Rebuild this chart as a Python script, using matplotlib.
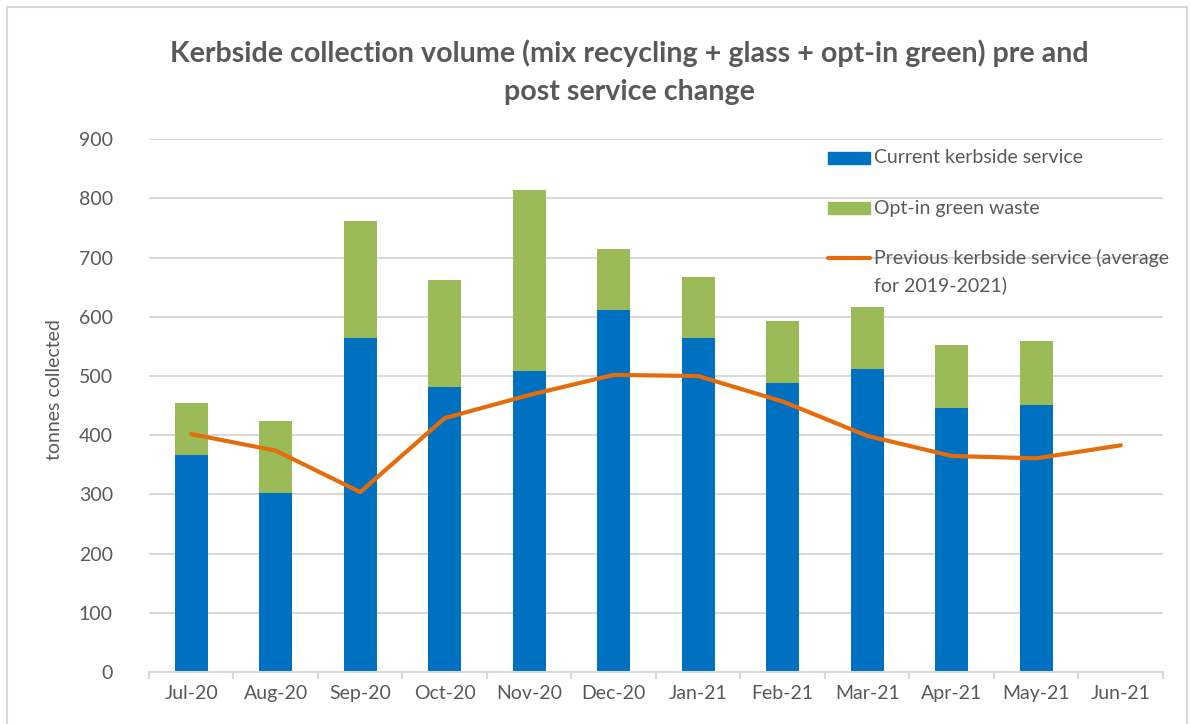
import matplotlib.pyplot as plt
import matplotlib.patches as mpatches
from matplotlib.lines import Line2D
import numpy as np

months = ['Jul-20', 'Aug-20', 'Sep-20', 'Oct-20', 'Nov-20', 'Dec-20',
          'Jan-21', 'Feb-21', 'Mar-21', 'Apr-21', 'May-21', 'Jun-21']
current = [366, 302, 565, 481, 509, 611, 565, 489, 512, 446, 451, 0]
green_total = [454, 424, 762, 662, 814, 714, 668, 593, 616, 552, 559, 0]
previous = [402, 374, 304, 429, 468, 502, 500, 457, 399, 365, 361, 383]
green = [t - c for t, c in zip(green_total, current)]

blue_c = '#0070C0'
green_c = '#9BBB59'
orange_c = '#E46C0A'
grey_txt = '#595959'
grid_c = '#D9D9D9'

plt.rcParams['font.family'] = ['Lato', 'DejaVu Sans']

fig = plt.figure(figsize=(11.9, 7.24), dpi=100)
fig.patches.append(mpatches.Rectangle((7 / 1190, -0.1), 1180 / 1190, 1.1 - 7 / 724,
                                      transform=fig.transFigure, fill=False,
                                      edgecolor=grid_c, linewidth=1.5))
ax = fig.add_axes([0.1252, 0.0718, 0.8521, 0.7358])

x = np.arange(len(months))
w = 0.39
ax.bar(x, current, w, color=blue_c, zorder=2)
ax.bar(x, green, w, bottom=current, color=green_c, zorder=2)
ax.plot(x, previous, color=orange_c, linewidth=3, zorder=3, solid_capstyle='round')

ax.set_xlim(-0.5, len(months) - 0.5)
ax.set_ylim(0, 900)
ax.set_yticks(range(0, 901, 100))
ax.yaxis.grid(True, color=grid_c, linewidth=1.5, zorder=0)
ax.set_axisbelow(True)
for s in ['top', 'right', 'left']:
    ax.spines[s].set_visible(False)
ax.spines['bottom'].set_color(grid_c)
ax.spines['bottom'].set_linewidth(1.5)

ax.set_xticks(x)
ax.set_xticklabels(months)
ax.set_xticks(np.arange(-0.5, len(months), 1), minor=True)
ax.tick_params(axis='x', which='major', length=0, pad=9, labelsize=14, labelcolor=grey_txt)
ax.tick_params(axis='x', which='minor', length=5, color=grid_c, width=1.5)
ax.tick_params(axis='y', length=0, pad=26, labelsize=14, labelcolor=grey_txt)
fig.text(55 / 1190, 1 - 390 / 724, 'tonnes collected', rotation=90, ha='center', va='center',
         fontsize=14, color=grey_txt)

fig.text(0.529, 0.900, 'Kerbside collection volume (mix recycling + glass + opt-in green) pre and\npost service change',
         ha='center', va='center', fontsize=20.6, fontweight='bold', color=grey_txt, linespacing=1.59)

# legend drawn in axes fraction
lx0, lx1, tx = 0.6696, 0.711, 0.715
fs_leg = 14
for yy, col, lab in [(0.965, blue_c, 'Current kerbside service'),
                     (0.871, green_c, 'Opt-in green waste')]:
    ax.add_patch(mpatches.Rectangle((lx0, yy - 0.011), lx1 - lx0, 0.022, transform=ax.transAxes,
                                    color=col, clip_on=False, zorder=4))
    ax.text(tx, yy, lab, transform=ax.transAxes, va='center', ha='left', fontsize=fs_leg, color=grey_txt)
ax.add_line(Line2D([lx0, lx1], [0.777, 0.777], transform=ax.transAxes, color=orange_c,
                   linewidth=3, solid_capstyle='round', zorder=4))
ax.text(tx, 0.777, 'Previous kerbside service (average', transform=ax.transAxes,
        va='center', ha='left', fontsize=fs_leg, color=grey_txt)
ax.text(tx, 0.727, 'for 2019-2021)', transform=ax.transAxes,
        va='center', ha='left', fontsize=fs_leg, color=grey_txt)

fig.savefig('out.png', dpi=100)
